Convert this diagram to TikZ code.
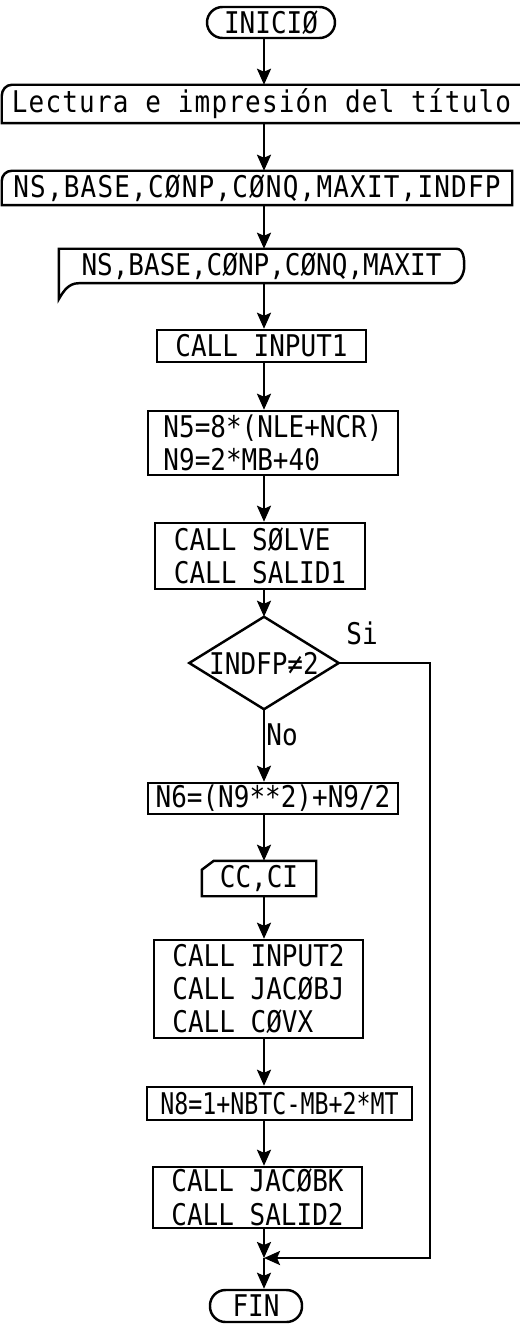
\documentclass[tikz,border=0pt]{standalone}
\usepackage{fontspec}
\setmonofont[FakeStretch=0.87]{DejaVu Sans Mono}
\newfontfamily\narrowmono[FakeStretch=0.78]{DejaVu Sans Mono}
\usetikzlibrary{arrows.meta}

\begin{document}
\begin{tikzpicture}[
    line width=1.4pt,
    every node/.style={font=\ttfamily\fontsize{17}{19}\selectfont},
    term/.style={draw, rounded corners=0.31cm, inner sep=0pt},
    proc/.style={draw, inner sep=0pt, align=left},
    io/.style={inner sep=0pt},
    wide/.style={font=\ttfamily\fontsize{17}{19}\selectfont\addfontfeature{LetterSpace=4}},
    arr/.style={-{Stealth[length=3.2mm, width=2.8mm, inset=0.6mm]}}
]
    \useasboundingbox (0,0) rectangle (10.4,-26.48);

    % Axis and return line
    \coordinate (ax) at (5.28, 0);
    \coordinate (rt) at (8.6, 0);
    \coordinate (j) at (5.28, -25.16);

    % Start and reading
    \node[term, minimum width=2.56cm, minimum height=0.62cm] (ini) at (5.42, -0.45) {INICIØ};
    \node[io, wide, minimum width=10.34cm, minimum height=0.72cm] (tit) at (5.23, -2.08) {Lectura e impresión del título};
    \node[io, wide, minimum width=10.16cm, minimum height=0.64cm] (par) at (5.14, -3.76) {NS,BASE,CØNP,CØNQ,MAXIT,INDFP};
    \node[io, minimum width=8.06cm, minimum height=0.64cm] (rd) at (5.23, -5.32) {NS,BASE,CØNP,CØNQ,MAXIT};

    % Card and document outlines
    \draw (tit.south west) -- ([yshift=-0.22cm]tit.north west) to[out=90, in=180] ([xshift=0.2cm]tit.north west)
        -- (tit.north east) -- (tit.south east) -- cycle;
    \draw (par.south west) -- ([yshift=-0.2cm]par.north west) to[out=90, in=180] ([xshift=0.2cm]par.north west)
        -- (par.north east) -- (par.south east) -- cycle;
    \draw (rd.north west) -- ([xshift=-0.16cm]rd.north east) to[out=0, in=90] (rd.east)
        to[out=-90, in=0] ([xshift=-0.26cm]rd.south east) -- ([xshift=0.4cm]rd.south west)
        to[out=180, in=60] ([yshift=-0.32cm]rd.south west) -- cycle;

    % Processes
    \node[proc, minimum width=4.18cm, minimum height=0.64cm] (in1) at (5.23, -6.92) {CALL INPUT1};
    \node[proc, minimum width=5.0cm, minimum height=1.28cm] (n5) at (5.46, -8.86) {N5=8*(NLE+NCR)\\N9=2*MB+40};
    \node[proc, minimum width=4.2cm, minimum height=1.32cm] (sol) at (5.2, -11.12) {CALL SØLVE\\CALL SALID1};

    % Decision
    \node[inner sep=0pt, minimum width=2.94cm, minimum height=1.8cm] (dec) at (5.28, -13.26) {INDFP≠2};
    \draw (dec.north) -- (dec.east) -- (dec.south) -- (dec.west) -- cycle;
    \node (si) at (7.24, -12.66) {Si};
    \node (no) at (5.64, -14.7) {No};

    % Second branch
    \node[proc, minimum width=5.0cm, minimum height=0.62cm] (n6) at (5.46, -15.97) {N6=(N9**2)+N9/2};
    \node[io, minimum width=2.24cm, minimum height=0.66cm] (cc) at (5.18, -17.57) {CC,CI};
    \draw (cc.south west) -- ([yshift=-0.18cm]cc.north west) -- ([xshift=0.24cm]cc.north west)
        -- (cc.north east) -- (cc.south east) -- cycle;
    \node[proc, minimum width=4.18cm, minimum height=1.96cm] (in2) at (5.17, -19.78) {CALL INPUT2\\CALL JACØBJ\\CALL CØVX};
    \node[proc, minimum width=5.3cm, minimum height=0.66cm, font=\narrowmono\fontsize{17}{19}\selectfont] (n8) at (5.59, -22.07) {N8=1+NBTC-MB+2*MT};
    \node[proc, minimum width=4.18cm, minimum height=1.22cm] (jk) at (5.15, -23.95) {CALL JACØBK\\CALL SALID2};

    % End
    \node[term, minimum width=1.84cm, minimum height=0.64cm] (fin) at (5.12, -26.12) {FIN};

    % Connections
    \draw[arr] (ini.south -| ax) -- (tit.north -| ax);
    \draw[arr] (tit.south -| ax) -- (par.north -| ax);
    \draw[arr] (par.south -| ax) -- (rd.north -| ax);
    \draw[arr] (rd.south -| ax) -- (in1.north -| ax);
    \draw[arr] (in1.south -| ax) -- (n5.north -| ax);
    \draw[arr] (n5.south -| ax) -- (sol.north -| ax);
    \draw[arr] (sol.south -| ax) -- (dec.north);
    \draw[arr] (dec.south) -- (n6.north -| ax);
    \draw[arr] (n6.south -| ax) -- (cc.north -| ax);
    \draw[arr] (cc.south -| ax) -- (in2.north -| ax);
    \draw[arr] (in2.south -| ax) -- (n8.north -| ax);
    \draw[arr] (n8.south -| ax) -- (jk.north -| ax);
    \draw[arr] (jk.south -| ax) -- (j);
    \draw[arr] (dec.east) -- (dec.east -| rt) |- (j);
    \draw[arr] (j) -- (fin.north -| ax);
\end{tikzpicture}
\end{document}
